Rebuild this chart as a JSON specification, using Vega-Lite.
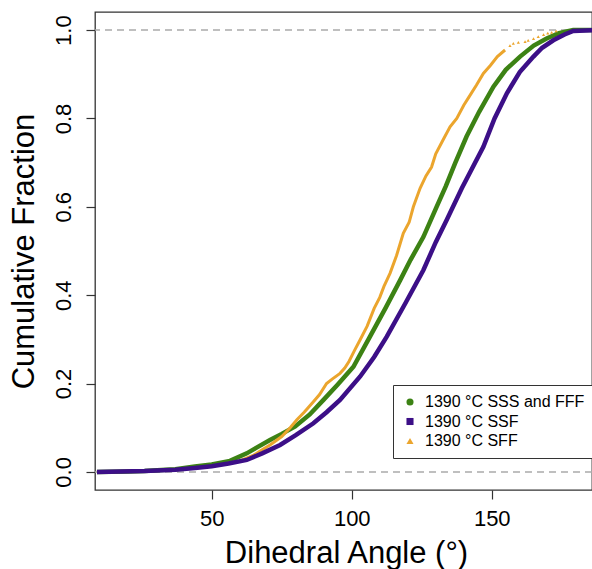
{
  "$schema": "https://vega.github.io/schema/vega-lite/v6.json",
  "width": 497,
  "height": 478,
  "autosize": {"type": "none"},
  "padding": {"left": 95, "top": 12, "right": 0, "bottom": 79},
  "background": "white",
  "config": {
    "font": "Liberation Sans",
    "view": {"stroke": "#333333", "strokeWidth": 1.3},
    "axis": {
      "grid": false,
      "domain": false,
      "tickColor": "#333333",
      "tickSize": 9,
      "tickWidth": 1.2,
      "labelColor": "black",
      "titleColor": "black",
      "labelFontSize": 22,
      "titleFontSize": 31,
      "titleFontWeight": "normal",
      "labelFont": "Liberation Sans",
      "titleFont": "Liberation Sans"
    },
    "legend": {
      "orient": "none",
      "legendX": 298,
      "legendY": 373,
      "strokeColor": "#333333",
      "fillColor": "white",
      "padding": 9,
      "labelFontSize": 16,
      "labelFont": "Liberation Sans",
      "labelColor": "black",
      "rowPadding": 3.5,
      "labelOffset": 7,
      "symbolSize": 50,
      "symbolStrokeWidth": 0,
      "labelLimit": 300
    }
  },
  "datasets": {
    "refs": [{"frac": 0}, {"frac": 1}],
    "green": [
      {"series": "1390 °C SSS and FFF", "angle": 9, "frac": 0},
      {"series": "1390 °C SSS and FFF", "angle": 20, "frac": 0.001},
      {"series": "1390 °C SSS and FFF", "angle": 26, "frac": 0.002},
      {"series": "1390 °C SSS and FFF", "angle": 32, "frac": 0.004},
      {"series": "1390 °C SSS and FFF", "angle": 37, "frac": 0.006},
      {"series": "1390 °C SSS and FFF", "angle": 44, "frac": 0.012},
      {"series": "1390 °C SSS and FFF", "angle": 50, "frac": 0.017},
      {"series": "1390 °C SSS and FFF", "angle": 56.5, "frac": 0.025},
      {"series": "1390 °C SSS and FFF", "angle": 62.5, "frac": 0.042},
      {"series": "1390 °C SSS and FFF", "angle": 66, "frac": 0.055},
      {"series": "1390 °C SSS and FFF", "angle": 70.8, "frac": 0.072},
      {"series": "1390 °C SSS and FFF", "angle": 75, "frac": 0.086},
      {"series": "1390 °C SSS and FFF", "angle": 79.8, "frac": 0.103},
      {"series": "1390 °C SSS and FFF", "angle": 85, "frac": 0.13},
      {"series": "1390 °C SSS and FFF", "angle": 89.9, "frac": 0.163},
      {"series": "1390 °C SSS and FFF", "angle": 95, "frac": 0.198},
      {"series": "1390 °C SSS and FFF", "angle": 100.6, "frac": 0.238},
      {"series": "1390 °C SSS and FFF", "angle": 106.5, "frac": 0.306},
      {"series": "1390 °C SSS and FFF", "angle": 112, "frac": 0.37},
      {"series": "1390 °C SSS and FFF", "angle": 117.3, "frac": 0.434},
      {"series": "1390 °C SSS and FFF", "angle": 121, "frac": 0.48},
      {"series": "1390 °C SSS and FFF", "angle": 125.6, "frac": 0.532},
      {"series": "1390 °C SSS and FFF", "angle": 130.3, "frac": 0.6},
      {"series": "1390 °C SSS and FFF", "angle": 133.6, "frac": 0.647},
      {"series": "1390 °C SSS and FFF", "angle": 137, "frac": 0.7},
      {"series": "1390 °C SSS and FFF", "angle": 141, "frac": 0.759},
      {"series": "1390 °C SSS and FFF", "angle": 145.5, "frac": 0.815},
      {"series": "1390 °C SSS and FFF", "angle": 150.6, "frac": 0.872},
      {"series": "1390 °C SSS and FFF", "angle": 155, "frac": 0.91},
      {"series": "1390 °C SSS and FFF", "angle": 160.1, "frac": 0.94},
      {"series": "1390 °C SSS and FFF", "angle": 165, "frac": 0.965},
      {"series": "1390 °C SSS and FFF", "angle": 169.6, "frac": 0.981},
      {"series": "1390 °C SSS and FFF", "angle": 174, "frac": 0.993},
      {"series": "1390 °C SSS and FFF", "angle": 179.1, "frac": 1.0},
      {"series": "1390 °C SSS and FFF", "angle": 186, "frac": 1.0}
    ],
    "purple": [
      {"series": "1390 °C SSF", "angle": 9, "frac": 0},
      {"series": "1390 °C SSF", "angle": 26, "frac": 0.002},
      {"series": "1390 °C SSF", "angle": 37, "frac": 0.005},
      {"series": "1390 °C SSF", "angle": 44, "frac": 0.009},
      {"series": "1390 °C SSF", "angle": 50, "frac": 0.013},
      {"series": "1390 °C SSF", "angle": 56, "frac": 0.019},
      {"series": "1390 °C SSF", "angle": 62.5, "frac": 0.027},
      {"series": "1390 °C SSF", "angle": 68, "frac": 0.042},
      {"series": "1390 °C SSF", "angle": 74.4, "frac": 0.061},
      {"series": "1390 °C SSF", "angle": 80, "frac": 0.083},
      {"series": "1390 °C SSF", "angle": 86.3, "frac": 0.11},
      {"series": "1390 °C SSF", "angle": 91, "frac": 0.135},
      {"series": "1390 °C SSF", "angle": 95.8, "frac": 0.163},
      {"series": "1390 °C SSF", "angle": 103, "frac": 0.216},
      {"series": "1390 °C SSF", "angle": 108, "frac": 0.26},
      {"series": "1390 °C SSF", "angle": 112.5, "frac": 0.306},
      {"series": "1390 °C SSF", "angle": 119, "frac": 0.38},
      {"series": "1390 °C SSF", "angle": 125.6, "frac": 0.457},
      {"series": "1390 °C SSF", "angle": 130, "frac": 0.52},
      {"series": "1390 °C SSF", "angle": 133.9, "frac": 0.57},
      {"series": "1390 °C SSF", "angle": 139.3, "frac": 0.642},
      {"series": "1390 °C SSF", "angle": 147, "frac": 0.736},
      {"series": "1390 °C SSF", "angle": 151, "frac": 0.8},
      {"series": "1390 °C SSF", "angle": 155.4, "frac": 0.857},
      {"series": "1390 °C SSF", "angle": 160, "frac": 0.905},
      {"series": "1390 °C SSF", "angle": 164.9, "frac": 0.94},
      {"series": "1390 °C SSF", "angle": 168, "frac": 0.96},
      {"series": "1390 °C SSF", "angle": 172, "frac": 0.977},
      {"series": "1390 °C SSF", "angle": 176, "frac": 0.99},
      {"series": "1390 °C SSF", "angle": 179.1, "frac": 0.998},
      {"series": "1390 °C SSF", "angle": 186, "frac": 1.0}
    ],
    "orange": [
      {"series": "1390 °C SFF", "angle": 9, "frac": 0},
      {"series": "1390 °C SFF", "angle": 26, "frac": 0.002},
      {"series": "1390 °C SFF", "angle": 37, "frac": 0.005},
      {"series": "1390 °C SFF", "angle": 44, "frac": 0.009},
      {"series": "1390 °C SFF", "angle": 50, "frac": 0.013},
      {"series": "1390 °C SFF", "angle": 55, "frac": 0.018},
      {"series": "1390 °C SFF", "angle": 60, "frac": 0.025},
      {"series": "1390 °C SFF", "angle": 65, "frac": 0.038},
      {"series": "1390 °C SFF", "angle": 68, "frac": 0.05},
      {"series": "1390 °C SFF", "angle": 70.8, "frac": 0.061},
      {"series": "1390 °C SFF", "angle": 75, "frac": 0.08},
      {"series": "1390 °C SFF", "angle": 78, "frac": 0.1},
      {"series": "1390 °C SFF", "angle": 80.4, "frac": 0.118},
      {"series": "1390 °C SFF", "angle": 83, "frac": 0.135},
      {"series": "1390 °C SFF", "angle": 86.3, "frac": 0.159},
      {"series": "1390 °C SFF", "angle": 88.5, "frac": 0.175},
      {"series": "1390 °C SFF", "angle": 91, "frac": 0.2},
      {"series": "1390 °C SFF", "angle": 93, "frac": 0.21},
      {"series": "1390 °C SFF", "angle": 95.8, "frac": 0.223},
      {"series": "1390 °C SFF", "angle": 97.5, "frac": 0.235},
      {"series": "1390 °C SFF", "angle": 99, "frac": 0.25},
      {"series": "1390 °C SFF", "angle": 101, "frac": 0.275},
      {"series": "1390 °C SFF", "angle": 103, "frac": 0.299},
      {"series": "1390 °C SFF", "angle": 105.5, "frac": 0.33},
      {"series": "1390 °C SFF", "angle": 108, "frac": 0.37},
      {"series": "1390 °C SFF", "angle": 110, "frac": 0.395},
      {"series": "1390 °C SFF", "angle": 111.5, "frac": 0.42},
      {"series": "1390 °C SFF", "angle": 113.7, "frac": 0.45},
      {"series": "1390 °C SFF", "angle": 116, "frac": 0.49},
      {"series": "1390 °C SFF", "angle": 118.4, "frac": 0.54},
      {"series": "1390 °C SFF", "angle": 120.5, "frac": 0.565},
      {"series": "1390 °C SFF", "angle": 122, "frac": 0.6},
      {"series": "1390 °C SFF", "angle": 124.4, "frac": 0.642},
      {"series": "1390 °C SFF", "angle": 126.5, "frac": 0.67},
      {"series": "1390 °C SFF", "angle": 128.5, "frac": 0.69},
      {"series": "1390 °C SFF", "angle": 130, "frac": 0.72},
      {"series": "1390 °C SFF", "angle": 132.5, "frac": 0.75},
      {"series": "1390 °C SFF", "angle": 135.1, "frac": 0.781},
      {"series": "1390 °C SFF", "angle": 137.5, "frac": 0.8},
      {"series": "1390 °C SFF", "angle": 140, "frac": 0.83},
      {"series": "1390 °C SFF", "angle": 142, "frac": 0.85},
      {"series": "1390 °C SFF", "angle": 144.5, "frac": 0.875},
      {"series": "1390 °C SFF", "angle": 147, "frac": 0.902},
      {"series": "1390 °C SFF", "angle": 149.5, "frac": 0.92},
      {"series": "1390 °C SFF", "angle": 152, "frac": 0.94},
      {"series": "1390 °C SFF", "angle": 154.75, "frac": 0.955}
    ],
    "orangeDots": [
      {"series": "1390 °C SFF", "angle": 156.5, "frac": 0.965},
      {"series": "1390 °C SFF", "angle": 157.7, "frac": 0.97},
      {"series": "1390 °C SFF", "angle": 159.5, "frac": 0.972},
      {"series": "1390 °C SFF", "angle": 161.9, "frac": 0.974},
      {"series": "1390 °C SFF", "angle": 163, "frac": 0.977},
      {"series": "1390 °C SFF", "angle": 164.9, "frac": 0.981},
      {"series": "1390 °C SFF", "angle": 166.6, "frac": 0.985},
      {"series": "1390 °C SFF", "angle": 168.5, "frac": 0.99},
      {"series": "1390 °C SFF", "angle": 170, "frac": 0.993},
      {"series": "1390 °C SFF", "angle": 171.4, "frac": 0.995},
      {"series": "1390 °C SFF", "angle": 173, "frac": 0.998}
    ]
  },
  "layer": [
    {
      "data": {"name": "refs"},
      "mark": {"type": "rule", "color": "#aaaaaa", "strokeDash": [7, 5], "strokeWidth": 1.5},
      "encoding": {
        "y": {"field": "frac", "type": "quantitative", "scale": {"domain": [-0.041, 1.041], "nice": false, "zero": false},
          "axis": {"values": [0, 0.2, 0.4, 0.6, 0.8, 1.0], "format": ".1f", "labelAngle": 270, "labelAlign": "center", "labelBaseline": "alphabetic", "labelPadding": 15.5, "title": "Cumulative Fraction", "titleAngle": 270, "titleX": -62, "titleY": 239, "titleBaseline": "alphabetic", "titleAlign": "center"}}
      }
    },
    {
      "data": {"name": "green"},
      "mark": {"type": "line", "strokeWidth": 4.5, "clip": true},
      "encoding": {
        "x": {"field": "angle", "type": "quantitative", "scale": {"domain": [8.3, 185.8], "nice": false, "zero": false},
          "axis": {"values": [50, 100, 150], "format": "d", "labelPadding": 9, "title": "Dihedral Angle (°)", "titleY": 72, "titleX": 251, "titleBaseline": "alphabetic", "titleAlign": "center"}},
        "y": {"field": "frac", "type": "quantitative", "scale": {"domain": [-0.041, 1.041], "nice": false, "zero": false}},
        "color": {"field": "series", "type": "nominal", "scale": {"domain": ["1390 °C SSS and FFF", "1390 °C SSF", "1390 °C SFF"], "range": ["#3c8214", "#3c0f87", "#eba52d"]}, "legend": {"title": null}}
      }
    },
    {
      "data": {"name": "orange"},
      "mark": {"type": "line", "strokeWidth": 3, "clip": true},
      "encoding": {
        "x": {"field": "angle", "type": "quantitative", "scale": {"domain": [8.3, 185.8], "nice": false, "zero": false}},
        "y": {"field": "frac", "type": "quantitative", "scale": {"domain": [-0.041, 1.041], "nice": false, "zero": false}},
        "color": {"field": "series", "type": "nominal", "scale": {"domain": ["1390 °C SSS and FFF", "1390 °C SSF", "1390 °C SFF"], "range": ["#3c8214", "#3c0f87", "#eba52d"]}, "legend": {"title": null}}
      }
    },
    {
      "data": {"name": "orangeDots"},
      "mark": {"type": "point", "filled": true, "opacity": 1, "size": 10, "clip": true},
      "encoding": {
        "x": {"field": "angle", "type": "quantitative", "scale": {"domain": [8.3, 185.8], "nice": false, "zero": false}},
        "y": {"field": "frac", "type": "quantitative", "scale": {"domain": [-0.041, 1.041], "nice": false, "zero": false}},
        "color": {"field": "series", "type": "nominal", "scale": {"domain": ["1390 °C SSS and FFF", "1390 °C SSF", "1390 °C SFF"], "range": ["#3c8214", "#3c0f87", "#eba52d"]}, "legend": {"title": null}},
        "shape": {"field": "series", "type": "nominal", "scale": {"domain": ["1390 °C SSS and FFF", "1390 °C SSF", "1390 °C SFF"], "range": ["circle", "square", "triangle-up"]}, "legend": {"title": null}}
      }
    },
    {
      "data": {"name": "purple"},
      "mark": {"type": "line", "strokeWidth": 4.5, "clip": true},
      "encoding": {
        "x": {"field": "angle", "type": "quantitative", "scale": {"domain": [8.3, 185.8], "nice": false, "zero": false}},
        "y": {"field": "frac", "type": "quantitative", "scale": {"domain": [-0.041, 1.041], "nice": false, "zero": false}},
        "color": {"field": "series", "type": "nominal", "scale": {"domain": ["1390 °C SSS and FFF", "1390 °C SSF", "1390 °C SFF"], "range": ["#3c8214", "#3c0f87", "#eba52d"]}, "legend": {"title": null}}
      }
    }
  ]
}
